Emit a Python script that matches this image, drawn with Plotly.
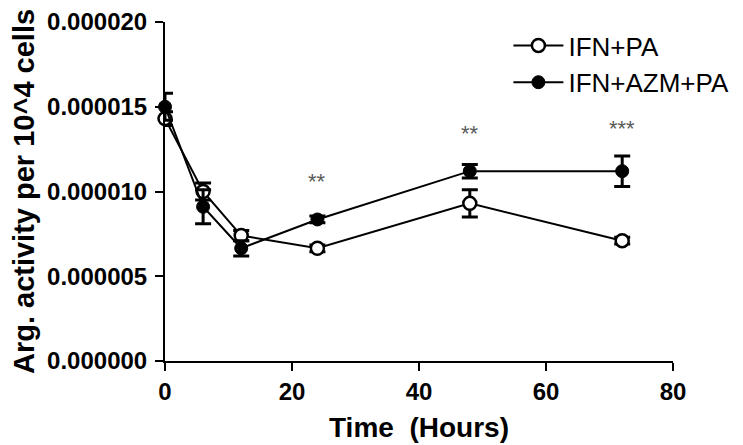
import plotly.graph_objects as go

hours = [0, 6, 12, 24, 48, 72]
pa_vals = [14.3e-6, 10.0e-6, 7.4e-6, 6.65e-6, 9.3e-6, 7.1e-6]
pa_err = [0.4e-6, 0.5e-6, 0.3e-6, 0.2e-6, 0.8e-6, 0.2e-6]
azm_vals = [15.0e-6, 9.1e-6, 6.65e-6, 8.35e-6, 11.2e-6, 11.2e-6]
azm_err = [0.8e-6, 1.0e-6, 0.45e-6, 0.2e-6, 0.4e-6, 0.9e-6]

sig_x = [24, 48, 72]
sig_y = [10.6e-6, 13.4e-6, 13.7e-6]
sig_text = ["**", "**", "***"]

series_names = ["IFN+PA", "IFN+AZM+PA"]
x_ticks = [0, 20, 40, 60, 80]
y_ticks = [0, 5e-6, 10e-6, 15e-6, 20e-6]

FONT = "Liberation Sans, Arial"

fig = go.Figure()
fig.add_trace(go.Scatter(
    x=hours, y=pa_vals, name=series_names[0], mode="lines+markers",
    line=dict(color="black", width=2),
    marker=dict(symbol="circle", size=13, color="white", line=dict(color="black", width=2.5)),
    error_y=dict(type="data", array=pa_err, color="black", thickness=3, width=8),
    cliponaxis=False,
))
fig.add_trace(go.Scatter(
    x=hours, y=azm_vals, name=series_names[1], mode="lines+markers",
    line=dict(color="black", width=2),
    marker=dict(symbol="circle", size=13, color="black", line=dict(color="black", width=1)),
    error_y=dict(type="data", array=azm_err, color="black", thickness=3, width=8),
    cliponaxis=False,
))

for xs, ys, t in zip(sig_x, sig_y, sig_text):
    fig.add_annotation(x=xs, y=ys, text=t, showarrow=False,
                       font=dict(family=FONT, size=22, color="#5a5a5a"))

axis_common = dict(
    showline=True, linecolor="black", linewidth=2,
    ticks="outside", ticklen=8, tickwidth=2, tickcolor="black",
    showgrid=False, zeroline=False, automargin=False,
    tickfont=dict(family=FONT, size=24, color="black", weight="bold"),
)

fig.update_layout(
    width=735, height=437,
    margin=dict(l=157, r=70, t=14, b=84, autoexpand=False),
    plot_bgcolor="white", paper_bgcolor="white",
    xaxis=dict(range=[0, 80], tickvals=x_ticks,
               title=dict(text="Time  (Hours)", standoff=14,
                          font=dict(family=FONT, size=28, color="black", weight="bold")),
               **axis_common),
    yaxis=dict(range=[0, 20e-6], tickvals=y_ticks, tickformat=".6f", ticklabelstandoff=3,
               title=dict(text="Arg. activity per 10^4 cells", standoff=4,
                          font=dict(family=FONT, size=29, color="black", weight="bold")),
               **axis_common),
    legend=dict(x=0.676, y=1.0, xanchor="left", yanchor="top",
                font=dict(family=FONT, size=26, color="black"),
                bgcolor="rgba(0,0,0,0)", itemwidth=50),
    showlegend=True,
)

fig.write_html("out.html")
